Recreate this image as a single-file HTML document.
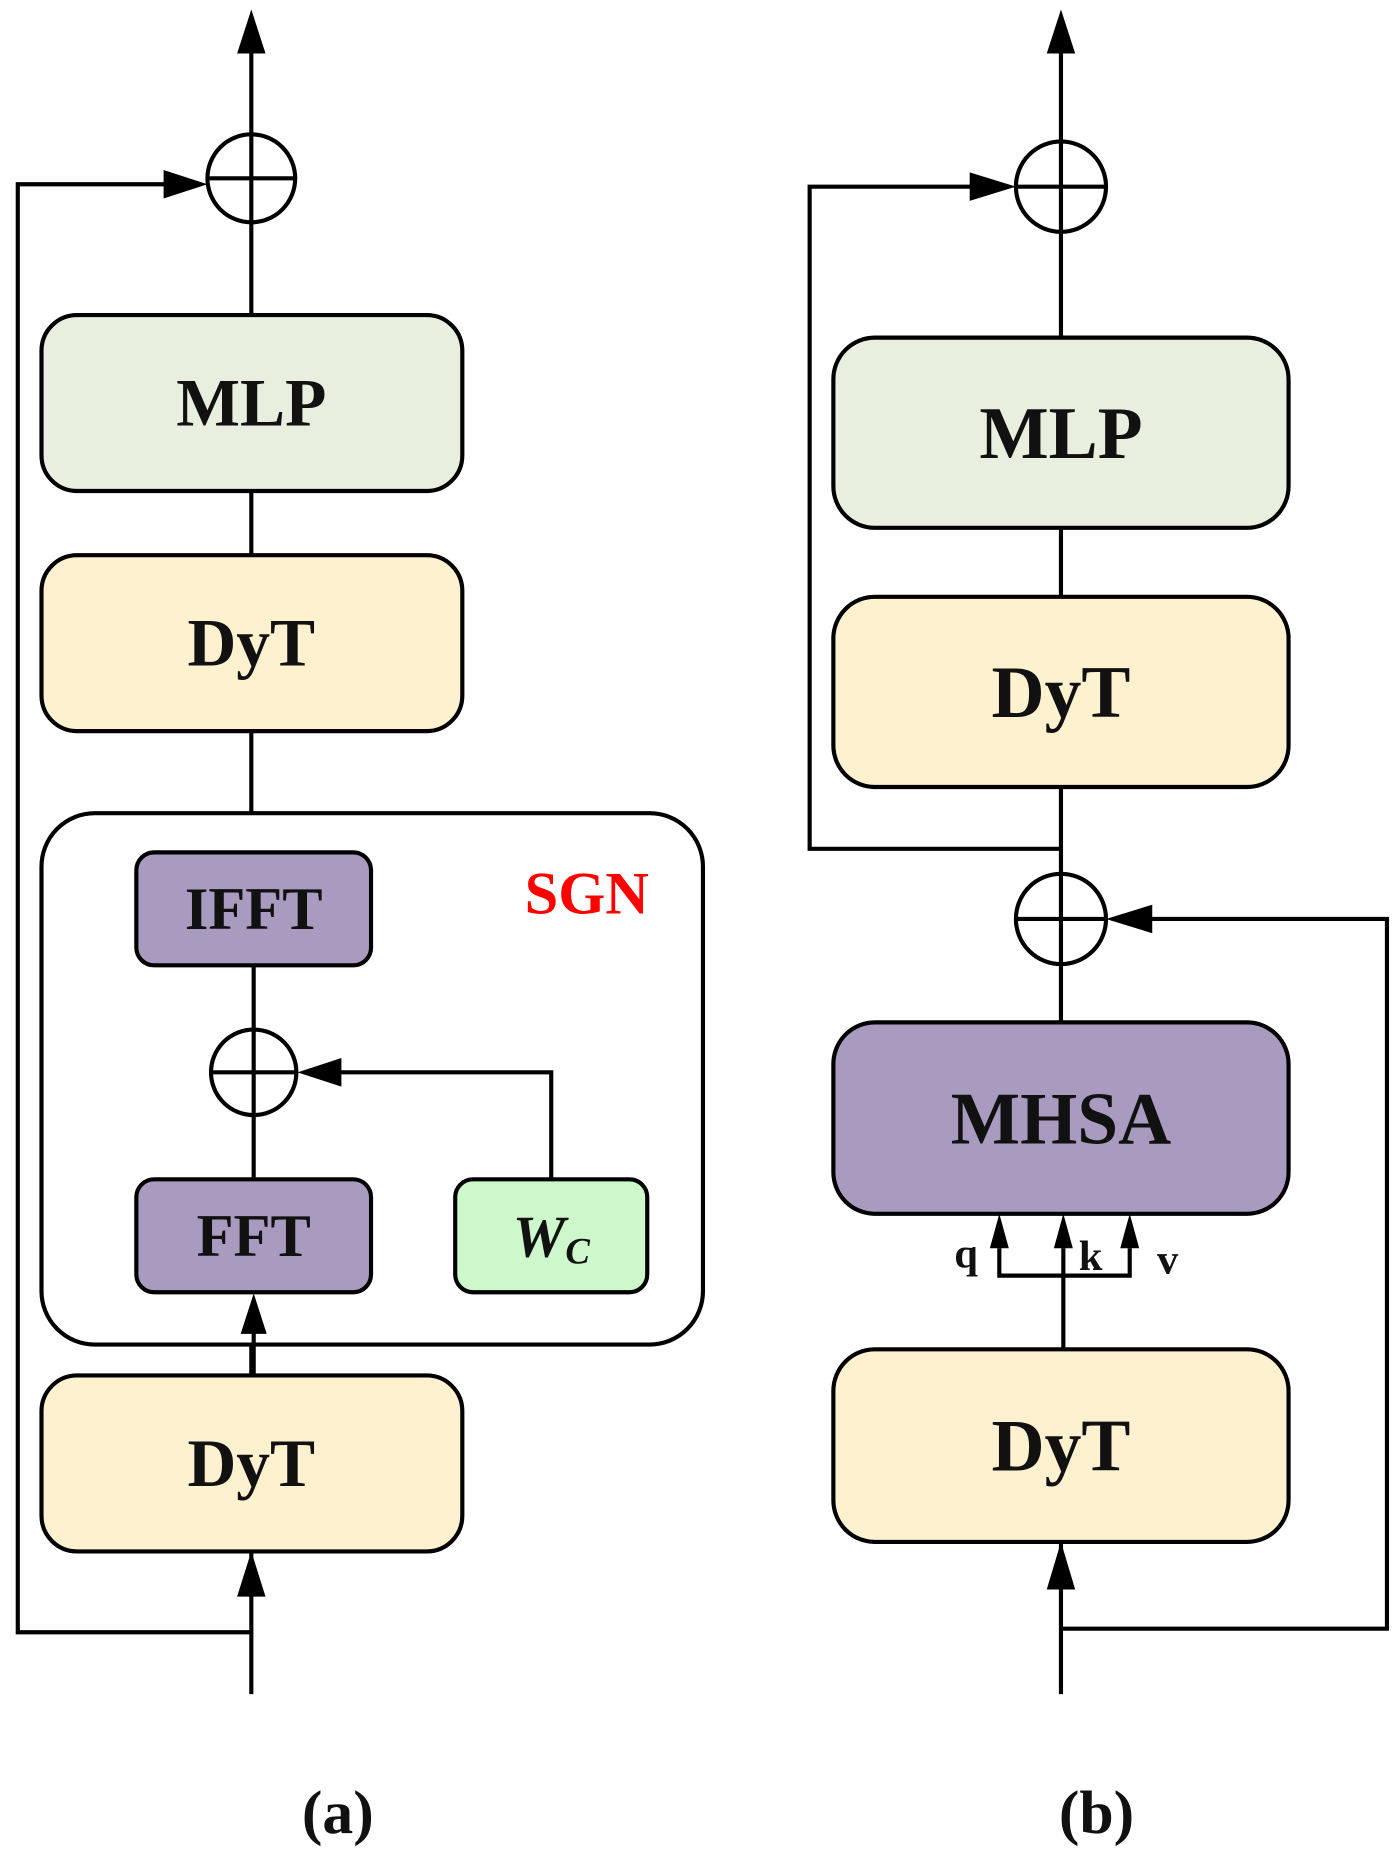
<!DOCTYPE html>
<html><head><style>
html,body{margin:0;padding:0;background:#fff;}
svg{display:block;}
text{font-family:"Liberation Serif",serif;font-weight:bold;text-anchor:middle;dominant-baseline:central;fill:#111;}
</style></head><body>
<svg width="1400" height="1851" viewBox="0 0 1181 1557" preserveAspectRatio="none" xmlns="http://www.w3.org/2000/svg">
<g stroke="#000" stroke-width="3.5" fill="none">
<!-- (a) -->
<line x1="212" y1="40" x2="212" y2="1425"/>
<polyline points="212,1373 15,1373 15,155 150,155"/>
<rect x="35" y="265" width="355" height="148" rx="30" fill="#e9efdf"/>
<rect x="35" y="467" width="355" height="148" rx="30" fill="#fdf1d0"/>
<rect x="35" y="684" width="558" height="447" rx="45" fill="#fff"/>
<line x1="214" y1="812" x2="214" y2="992"/>
<polyline points="465,992 465,902 280,902"/>
<rect x="115" y="717" width="198" height="95" rx="15" fill="#a99bbf"/>
<rect x="115" y="992" width="198" height="95" rx="15" fill="#a99bbf"/>
<rect x="384" y="992" width="162" height="95" rx="15" fill="#ccf8cc"/>
<line x1="214" y1="1120" x2="214" y2="1157"/>
<rect x="35" y="1157" width="355" height="148" rx="30" fill="#fdf1d0"/>
<circle cx="212" cy="150" r="37" fill="#fff"/>
<line x1="175" y1="150" x2="249" y2="150"/><line x1="212" y1="113" x2="212" y2="187"/>
<circle cx="214" cy="902" r="36" fill="#fff"/>
<line x1="178" y1="902" x2="250" y2="902"/><line x1="214" y1="866" x2="214" y2="938"/>
<!-- (b) -->
<line x1="895" y1="40" x2="895" y2="284"/>
<line x1="895" y1="444" x2="895" y2="502"/>
<line x1="895" y1="662" x2="895" y2="860"/>
<polyline points="895,714 683,714 683,157 820,157"/>
<polyline points="895,1370 1170,1370 1170,773 970,773"/>
<line x1="895" y1="1297" x2="895" y2="1425"/>
<rect x="703" y="284" width="384" height="160" rx="35" fill="#e9efdf"/>
<rect x="703" y="502" width="384" height="160" rx="35" fill="#fdf1d0"/>
<rect x="703" y="860" width="384" height="161" rx="35" fill="#a99bbf"/>
<rect x="703" y="1135" width="384" height="162" rx="35" fill="#fdf1d0"/>
<line x1="897" y1="1135" x2="897" y2="1050"/>
<polyline points="843,1050 843,1073 953,1073 953,1050"/>
<circle cx="895" cy="157" r="38" fill="#fff"/>
<line x1="857" y1="157" x2="933" y2="157"/><line x1="895" y1="119" x2="895" y2="195"/>
<circle cx="895" cy="773" r="38" fill="#fff"/>
<line x1="857" y1="773" x2="933" y2="773"/><line x1="895" y1="735" x2="895" y2="811"/>
</g>
<g fill="#000">
<polygon points="212,8 200,45 224,45"/>
<polygon points="175,155 138,143 138,167"/>
<polygon points="251,902 288,890 288,914"/>
<polygon points="214,1088 203,1122 225,1122"/>
<polygon points="212,1305 200,1343 224,1343"/>
<polygon points="895,8 883,45 907,45"/>
<polygon points="857,157 818,145 818,169"/>
<polygon points="933,773 972,761 972,785"/>
<polygon points="895,1297 883,1337 907,1337"/>
<polygon points="843,1021 835,1050 851,1050"/>
<polygon points="897,1021 889,1050 905,1050"/>
<polygon points="953,1021 945,1050 961,1050"/>
</g>
<text x="212" y="339" font-size="57">MLP</text>
<text x="212" y="541" font-size="57">DyT</text>
<text x="214" y="765" font-size="51">IFFT</text>
<text x="214" y="1040" font-size="51">FFT</text>
<text x="465" y="1040" font-size="50" font-style="italic" font-weight="normal">W<tspan font-size="31" dy="12">C</tspan></text>
<text x="495" y="752" font-size="51" style="fill:#f00">SGN</text>
<text x="212" y="1231" font-size="57">DyT</text>
<text x="285" y="1525" font-size="52" font-weight="normal">(<tspan font-weight="bold">a</tspan>)</text>
<text x="895" y="364" font-size="62">MLP</text>
<text x="895" y="582" font-size="62">DyT</text>
<text x="895" y="941" font-size="62">MHSA</text>
<text x="895" y="1216" font-size="62">DyT</text>
<text x="815" y="1055" font-size="36">q</text>
<text x="920" y="1057" font-size="36">k</text>
<text x="985" y="1060" font-size="36">v</text>
<text x="925" y="1525" font-size="52" font-weight="normal">(<tspan font-weight="bold">b</tspan>)</text>
</svg>
</body></html>
